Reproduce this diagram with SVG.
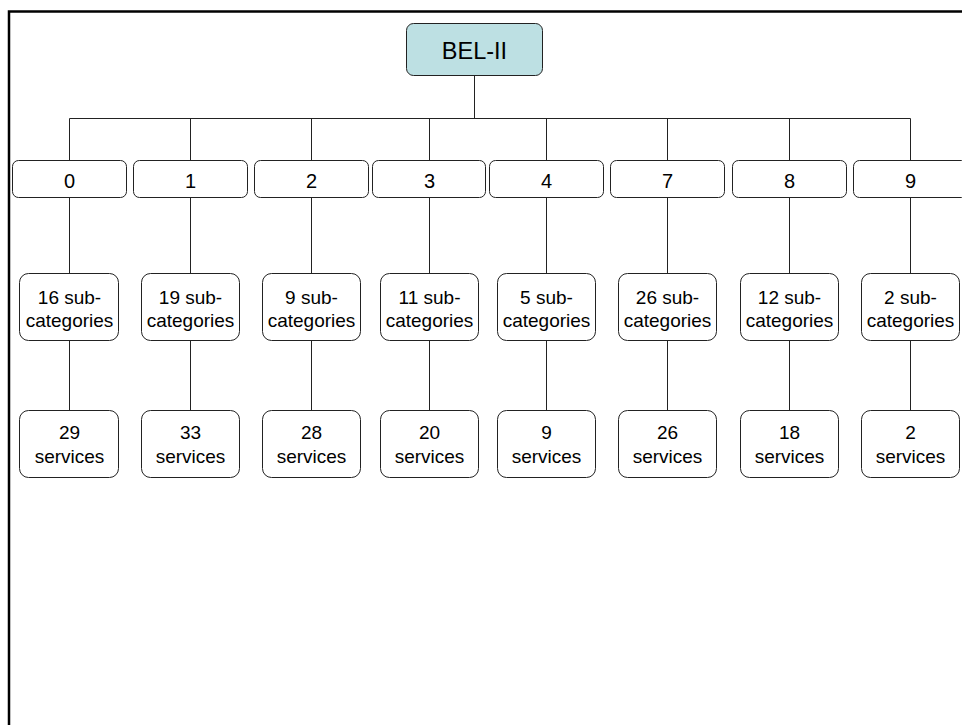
<svg xmlns="http://www.w3.org/2000/svg" width="962" height="725" viewBox="0 0 962 725">
<style>
text{font-family:"Liberation Sans",Arial,sans-serif;font-size:19px;fill:#000;text-anchor:middle}
.l1{font-size:20px}
.box{fill:#fff;stroke:#222;stroke-width:1}
.root{fill:#BDE0E3;stroke:#222;stroke-width:1}
.c{stroke:#222;stroke-width:1;fill:none}
.frame{stroke:#000;stroke-width:2.5;fill:none}
</style>
<rect width="962" height="725" fill="#fff"/>
<path class="frame" d="M9,725 V11.5 H962"/>
<g id="connectors">
<path class="c" d="M474.5,76 V118.5 M69.5,118.5 H910.5"/>
<path class="c" d="M69.5,118.5 V160 M69.5,198 V273 M69.5,341 V410"/>
<path class="c" d="M190.5,118.5 V160 M190.5,198 V273 M190.5,341 V410"/>
<path class="c" d="M311.5,118.5 V160 M311.5,198 V273 M311.5,341 V410"/>
<path class="c" d="M429.5,118.5 V160 M429.5,198 V273 M429.5,341 V410"/>
<path class="c" d="M546.5,118.5 V160 M546.5,198 V273 M546.5,341 V410"/>
<path class="c" d="M667.5,118.5 V160 M667.5,198 V273 M667.5,341 V410"/>
<path class="c" d="M789.5,118.5 V160 M789.5,198 V273 M789.5,341 V410"/>
<path class="c" d="M910.5,118.5 V160 M910.5,198 V273 M910.5,341 V410"/>
</g>
<g id="root"><rect class="root" x="406.5" y="23.5" width="136" height="52" rx="7"/><text x="474.5" y="59" style="font-size:23.5px">BEL-II</text></g>

<g id="cat0"><rect class="box" x="12.5" y="160.5" width="114" height="37" rx="6"/><text class="l1" x="69.5" y="188">0</text></g>
<g id="cat1"><rect class="box" x="133.5" y="160.5" width="114" height="37" rx="6"/><text class="l1" x="190.5" y="188">1</text></g>
<g id="cat2"><rect class="box" x="254.5" y="160.5" width="114" height="37" rx="6"/><text class="l1" x="311.5" y="188">2</text></g>
<g id="cat3"><rect class="box" x="372.5" y="160.5" width="113" height="37" rx="6"/><text class="l1" x="429.5" y="188">3</text></g>
<g id="cat4"><rect class="box" x="489.5" y="160.5" width="114" height="37" rx="6"/><text class="l1" x="546.5" y="188">4</text></g>
<g id="cat7"><rect class="box" x="610.5" y="160.5" width="114" height="37" rx="6"/><text class="l1" x="667.5" y="188">7</text></g>
<g id="cat8"><rect class="box" x="732.5" y="160.5" width="114" height="37" rx="6"/><text class="l1" x="789.5" y="188">8</text></g>
<g id="cat9"><rect class="box" x="853.5" y="160.5" width="114" height="37" rx="6"/><text class="l1" x="910.5" y="188">9</text></g>

<g id="sub0"><rect class="box" x="19.5" y="273.5" width="99" height="67" rx="9"/><text x="69.5" y="304">16 sub-</text><text x="69.5" y="327">categories</text></g>
<g id="sub1"><rect class="box" x="141.5" y="273.5" width="98" height="67" rx="9"/><text x="190.5" y="304">19 sub-</text><text x="190.5" y="327">categories</text></g>
<g id="sub2"><rect class="box" x="262.5" y="273.5" width="98" height="67" rx="9"/><text x="311.5" y="304">9 sub-</text><text x="311.5" y="327">categories</text></g>
<g id="sub3"><rect class="box" x="380.5" y="273.5" width="98" height="67" rx="9"/><text x="429.5" y="304">11 sub-</text><text x="429.5" y="327">categories</text></g>
<g id="sub4"><rect class="box" x="497.5" y="273.5" width="98" height="67" rx="9"/><text x="546.5" y="304">5 sub-</text><text x="546.5" y="327">categories</text></g>
<g id="sub7"><rect class="box" x="618.5" y="273.5" width="98" height="67" rx="9"/><text x="667.5" y="304">26 sub-</text><text x="667.5" y="327">categories</text></g>
<g id="sub8"><rect class="box" x="740.5" y="273.5" width="98" height="67" rx="9"/><text x="789.5" y="304">12 sub-</text><text x="789.5" y="327">categories</text></g>
<g id="sub9"><rect class="box" x="861.5" y="273.5" width="98" height="67" rx="9"/><text x="910.5" y="304">2 sub-</text><text x="910.5" y="327">categories</text></g>

<g id="svc0"><rect class="box" x="19.5" y="410.5" width="99" height="67" rx="9"/><text x="69.5" y="439">29</text><text x="69.5" y="463">services</text></g>
<g id="svc1"><rect class="box" x="141.5" y="410.5" width="98" height="67" rx="9"/><text x="190.5" y="439">33</text><text x="190.5" y="463">services</text></g>
<g id="svc2"><rect class="box" x="262.5" y="410.5" width="98" height="67" rx="9"/><text x="311.5" y="439">28</text><text x="311.5" y="463">services</text></g>
<g id="svc3"><rect class="box" x="380.5" y="410.5" width="98" height="67" rx="9"/><text x="429.5" y="439">20</text><text x="429.5" y="463">services</text></g>
<g id="svc4"><rect class="box" x="497.5" y="410.5" width="98" height="67" rx="9"/><text x="546.5" y="439">9</text><text x="546.5" y="463">services</text></g>
<g id="svc7"><rect class="box" x="618.5" y="410.5" width="98" height="67" rx="9"/><text x="667.5" y="439">26</text><text x="667.5" y="463">services</text></g>
<g id="svc8"><rect class="box" x="740.5" y="410.5" width="98" height="67" rx="9"/><text x="789.5" y="439">18</text><text x="789.5" y="463">services</text></g>
<g id="svc9"><rect class="box" x="861.5" y="410.5" width="98" height="67" rx="9"/><text x="910.5" y="439">2</text><text x="910.5" y="463">services</text></g>
</svg>
